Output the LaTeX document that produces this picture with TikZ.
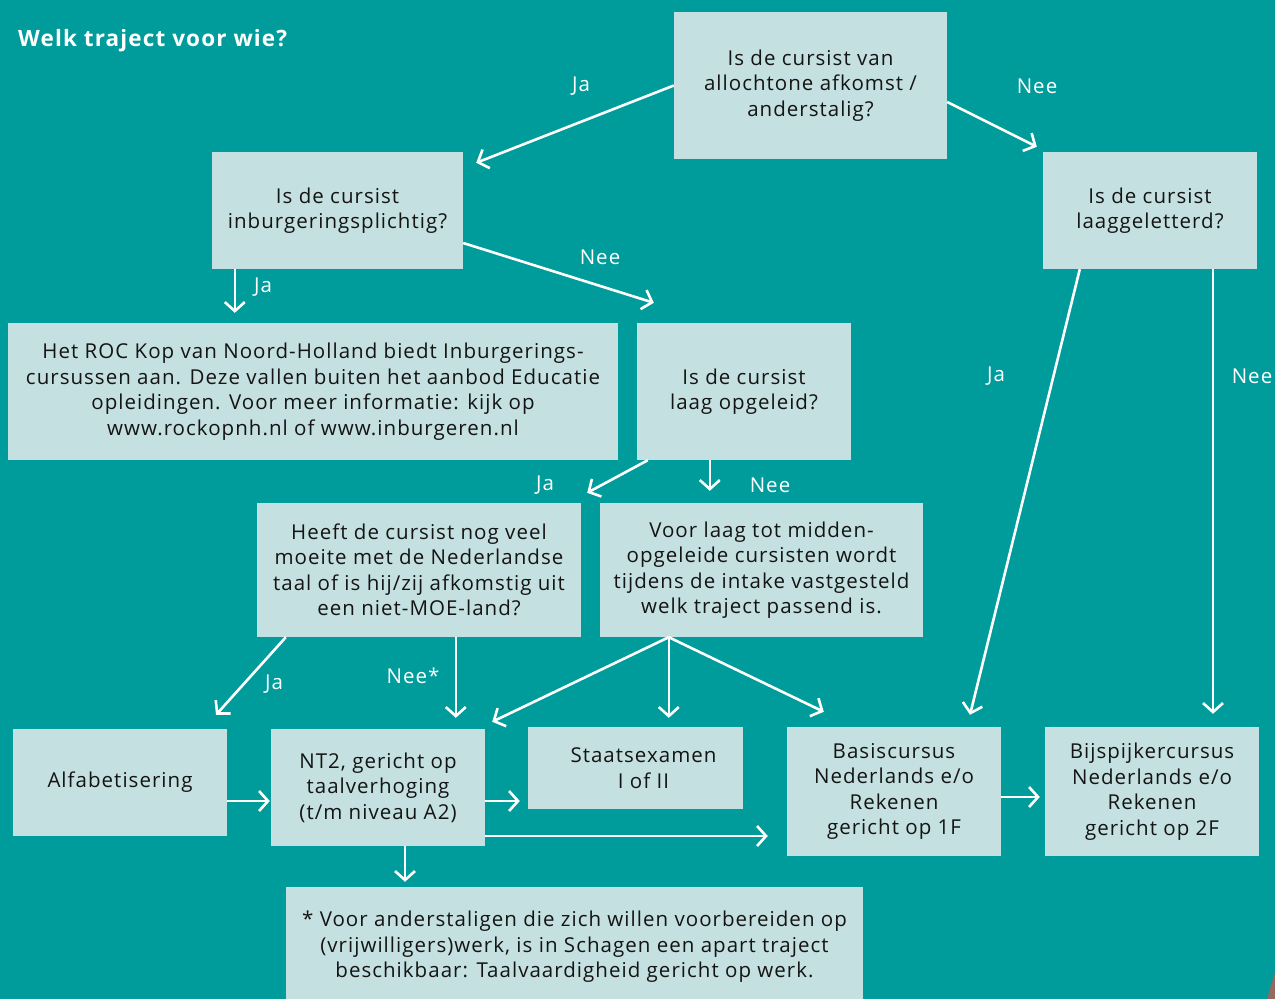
\documentclass[tikz,border=0pt]{standalone}
\usepackage{fontspec}
\setmainfont[LetterSpace=5]{Open Sans}
\usetikzlibrary{arrows.meta,calc}
\definecolor{bg}{RGB}{0,155,155}
\definecolor{bx}{RGB}{197,224,224}
\definecolor{tx}{RGB}{20,20,20}
\definecolor{photo}{RGB}{150,105,95}
\tikzset{
  box/.style={fill=bx, text=tx, inner sep=0pt, align=center, font=\fontsize{20.5}{25.5}\selectfont},
  arr/.style={draw=white, line width=2.6pt, -{Straight Barb[length=9pt,width=20pt]}},
  lbl/.style={text=white, inner sep=0pt, font=\fontsize{20.5}{24}\selectfont},
}
\begin{document}
\begin{tikzpicture}[x=1pt,y=-1pt]
\useasboundingbox (0,0) rectangle (1275,999);
\fill[bg] (0,0) rectangle (1275,999);
\fill[photo] (1275,972) -- (1267,999) -- (1275,999) -- cycle;
\node[anchor=west, text=white, inner sep=0pt, font=\fontsize{22.5}{26}\selectfont\bfseries] (title) at (18,41) {Welk traject voor wie?};

\node[box, minimum width=273, minimum height=147] (q1) at (810.5,85.5) {Is de cursist van\\allochtone afkomst /\\anderstalig?};
\node[box, minimum width=251, minimum height=117] (q2) at (337.5,210.5) {Is de cursist\\inburgeringsplichtig?};
\node[box, minimum width=214, minimum height=117] (q3) at (1150,210.5) {Is de cursist\\laaggeletterd?};
\node[box, minimum width=610, minimum height=137] (q4) at (313,391.5) {Het ROC Kop van Noord-Holland biedt Inburgerings-\\cursussen aan. Deze vallen buiten het aanbod Educatie\\opleidingen. Voor meer informatie: kijk op\\www.rockopnh.nl of www.inburgeren.nl};
\node[box, minimum width=214, minimum height=137] (q5) at (744,391.5) {Is de cursist\\laag opgeleid?};
\node[box, minimum width=324, minimum height=134] (q6) at (419,570) {Heeft de cursist nog veel\\moeite met de Nederlandse\\taal of is hij/zij afkomstig uit\\een niet-MOE-land?};
\node[box, minimum width=323, minimum height=134] (q7) at (761.5,570) {Voor laag tot midden-\\opgeleide cursisten wordt\\tijdens de intake vastgesteld\\welk traject passend is.};
\node[box, minimum width=214, minimum height=107] (q8) at (120,782.5) {Alfabetisering};
\node[box, minimum width=214, minimum height=117] (q9) at (378,787.5) {NT2, gericht op\\taalverhoging\\(t/m niveau A2)};
\node[box, minimum width=215, minimum height=82] (q10) at (635.5,768) {\hspace*{16pt}Staatsexamen\\\hspace*{16pt}I of II};
\node[box, minimum width=214, minimum height=129] (q11) at (894,791.5) {Basiscursus\\Nederlands e/o\\Rekenen\\gericht op 1F};
\node[box, minimum width=214, minimum height=129] (q12) at (1152,791.5) {Bijspijkercursus\\Nederlands e/o\\Rekenen\\gericht op 2F};
\node[box, minimum width=577, minimum height=120] (q13) at (574.5,947) {* Voor anderstaligen die zich willen voorbereiden op\\(vrijwilligers)werk, is in Schagen een apart traject\\beschikbaar: Taalvaardigheid gericht op werk.};

% connectors
\draw[arr] (q1.west) -- ($(q2.north east)+(13,11)$);
\draw[arr] ($(q1.east)+(0,16.5)$) -- ($(q3.north west)+(-6,-5)$);
\draw[arr] ($(q2.south west)+(23,0)$) -- ($(q4.north west)+(227,-10)$);
\draw[arr] ($(q2.east)+(0,32.5)$) -- ($(q5.north west)+(17,-20)$);
\draw[arr] ($(q3.south west)+(37,0)$) -- ($(q11.north)+(76,-12)$);
\draw[arr] ($(q3.south)+(63,0)$) -- ($(q12.north)+(61,-13)$);
\draw[arr] ($(q5.south west)+(11,0)$) -- ($(q6.north east)+(6,-10)$);
\draw[arr] ($(q5.south west)+(73,0)$) -- ($(q7.north west)+(110,-12)$);
\draw[arr] ($(q6.south west)+(29,0)$) -- ($(q8.north)+(96,-14)$);
\draw[arr] ($(q6.south west)+(199,0)$) -- ($(q9.north west)+(185,-11)$);
\draw[arr] ($(q7.south west)+(69,0)$) -- ($(q9.north east)+(7,-7)$);
\draw[arr] ($(q7.south west)+(69,0)$) -- ($(q10.north west)+(141,-9)$);
\draw[arr] ($(q7.south west)+(69,0)$) -- ($(q11.north west)+(37,-15)$);
\draw[arr] ($(q8.east)+(0,18.5)$) -- ($(q9.west)+(-1,13.5)$);
\draw[arr] ($(q9.east)+(0,13.5)$) -- ($(q10.west)+(-8,33)$);
\draw[arr] ($(q9.east)+(0,48.5)$) -- ($(q11.west)+(-19,44.5)$);
\draw[arr] ($(q9.south)+(27,0)$) -- ($(q13.north)+(-169.5,-5)$);
\draw[arr] ($(q11.east)+(0,5.5)$) -- ($(q12.west)+(-5,5.5)$);

% labels
\node[lbl] (l1) at (581,86) {Ja};
\node[lbl] (l2) at (1037,86) {Nee};
\node[lbl] (l3) at (263,287) {Ja};
\node[lbl] (l4) at (600,257) {Nee};
\node[lbl] (l5) at (996,376) {Ja};
\node[lbl] (l6) at (1252,376) {Nee};
\node[lbl] (l7) at (545,485) {Ja};
\node[lbl] (l8) at (770,485) {Nee};
\node[lbl] (l9) at (274,684) {Ja};
\node[lbl] (l10) at (413,676) {Nee*};
\end{tikzpicture}
\end{document}
